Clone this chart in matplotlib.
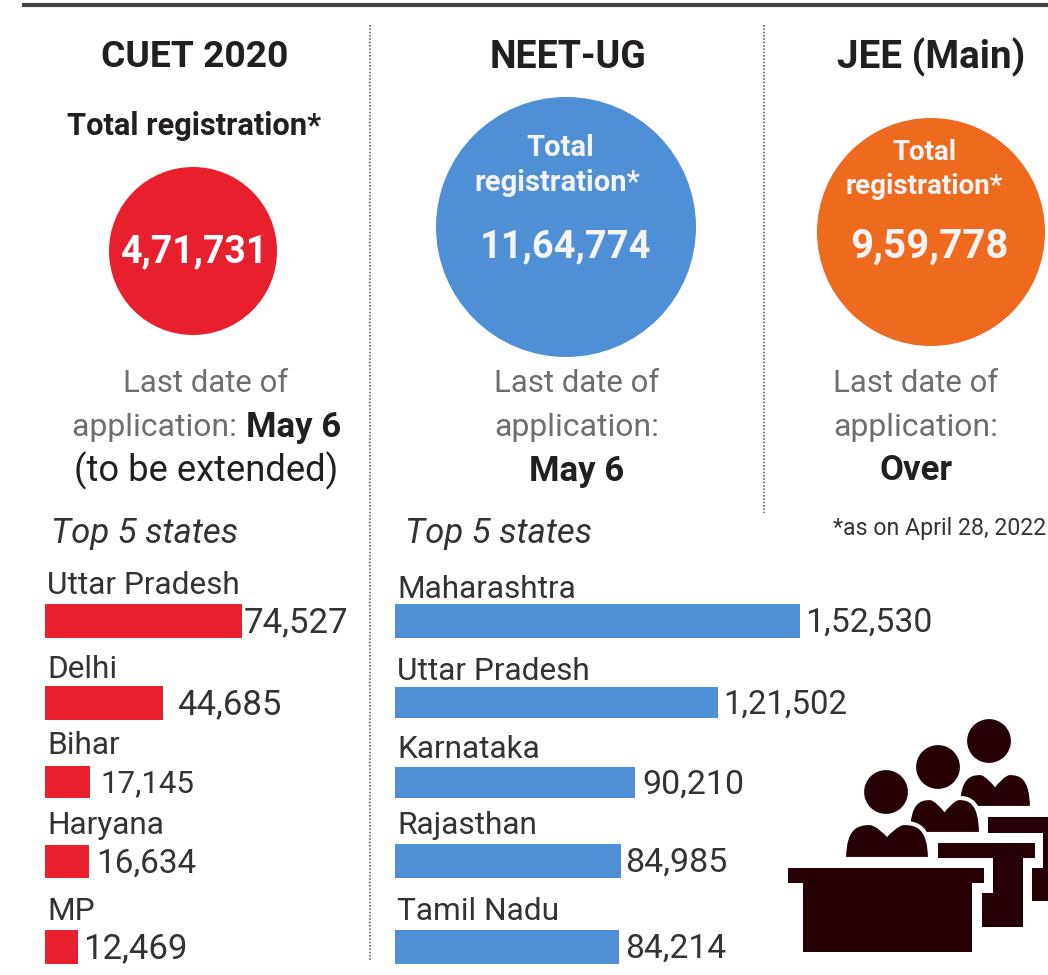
import matplotlib
matplotlib.use('Agg')
import matplotlib.pyplot as plt
from matplotlib.patches import Circle, Rectangle, PathPatch
from matplotlib.path import Path

# data
cuet_states = ['Uttar Pradesh', 'Delhi', 'Bihar', 'Haryana', 'MP']
cuet_values = [74527, 44685, 17145, 16634, 12469]
cuet_labels = ['74,527', '44,685', '17,145', '16,634', '12,469']

neet_states = ['Maharashtra', 'Uttar Pradesh', 'Karnataka', 'Rajasthan', 'Tamil Nadu']
neet_values = [152530, 121502, 90210, 84985, 84214]
neet_labels = ['1,52,530', '1,21,502', '90,210', '84,985', '84,214']

totals = ['4,71,731', '11,64,774', '9,59,778']
titles = ['CUET 2020', 'NEET-UG', 'JEE (Main)']

RED = '#e8202d'
BLUE = '#4f8fd6'
ORANGE = '#ee6a1f'
DARK = '#231f20'
GREY = '#6d6e70'
ICON = '#260004'
W, H = 1048, 975

plt.rcParams['font.family'] = ['Roboto', 'DejaVu Sans']

fig = plt.figure(figsize=(W / 100, H / 100), dpi=100, facecolor='white')

# whole figure overlay in pixel coordinates for the text and decoration
bg = fig.add_axes([0, 0, 1, 1])
bg.set_xlim(0, W)
bg.set_ylim(H, 0)
bg.axis('off')

bg.plot([24, 1048], [5, 5], color='#444444', lw=3)
bg.plot([370, 370], [25, 960], color='#666666', lw=1.2, ls=(0, (1, 1)))
bg.plot([764, 764], [25, 513], color='#666666', lw=1.2, ls=(0, (1, 1)))


def label(x, y, s, size, color=DARK, ha='center', **kw):
    # roboto sits a little high against the original, nudge it down
    return bg.text(x, y + 2, s, ha=ha, va='center', fontsize=size, color=color, **kw)


for t, x, size in zip(titles, [195, 568, 931], [26.8, 27, 27.8]):
    label(x, 55, t, size, fontweight='bold')

label(194, 124, 'Total registration*', 22.2, fontweight='bold')

# circles
bg.add_patch(Circle((193, 251), 84, color=RED, lw=0))
bg.add_patch(Circle((566, 227), 130, color=BLUE, lw=0))
bg.add_patch(Circle((931, 232), 114, color=ORANGE, lw=0))

label(195, 250, totals[0], 27, 'white', fontweight='bold')
label(560, 146, 'Total', 21, '#f4f4f4', fontweight='bold')
label(557, 181, 'registration*', 21, '#f4f4f4', fontweight='bold')
label(566, 245, totals[1], 27.4, '#f4f4f4', fontweight='bold')
label(925, 150, 'Total', 20, '#f4f4f4', fontweight='bold')
label(924, 184, 'registration*', 20, '#f4f4f4', fontweight='bold')
label(930, 245, totals[2], 29, '#f4f4f4', fontweight='bold')

# last date of application blocks
label(206, 381, 'Last date of', 22.4, GREY)
label(72, 425, 'application: ', 23, GREY, ha='left')
label(246, 425, 'May 6', 25, ha='left', fontweight='bold')
label(206, 469, '(to be extended)', 26.2)

label(577, 381, 'Last date of', 22.4, GREY)
label(577, 425, 'application:', 23, GREY)
label(577, 469, 'May 6', 25, fontweight='bold')

label(916, 381, 'Last date of', 22.4, GREY)
label(916, 425, 'application:', 23, GREY)
label(916, 469, 'Over', 25, fontweight='bold')
label(833, 527, '*as on April 28, 2022', 16.7, '#333333', ha='left')

label(51, 531, 'Top 5 states', 25, '#333333', ha='left', style='italic')
label(405, 531, 'Top 5 states', 25, '#333333', ha='left', style='italic')


# icon
def person(hx, hy, x0, x1, y0, y1):
    # grow the outline by the white edge so the dark part keeps its size
    x0, x1, y0 = x0 - 2, x1 + 2, y0 - 2
    xm = (x0 + x1) / 2
    w = x1 - x0
    verts = [(x0, y1), (x0, y0 + 4), (x0 + .15 * w, y0), (x0 + .3 * w, y0),
             (x0 + .38 * w, y0), (xm, y0 + 11), (xm, y0 + 11),
             (xm, y0 + 11), (x1 - .38 * w, y0), (x1 - .3 * w, y0),
             (x1 - .15 * w, y0), (x1, y0 + 4), (x1, y1), (x0, y1)]
    codes = [Path.MOVETO, Path.CURVE4, Path.CURVE4, Path.CURVE4,
             Path.CURVE4, Path.CURVE4, Path.CURVE4,
             Path.CURVE4, Path.CURVE4, Path.CURVE4,
             Path.CURVE4, Path.CURVE4, Path.CURVE4, Path.CLOSEPOLY]
    # white edge gives the gap where a person overlaps the one behind
    bg.add_patch(PathPatch(Path(verts, codes), fc=ICON, ec='white', lw=3))
    bg.add_patch(Circle((hx, hy), 24, fc=ICON, ec='white', lw=3))


person(989, 741, 960, 1030, 775, 808)
person(938, 767, 910, 979, 800, 834)
person(886, 792, 846, 928, 825, 859)

for x0, y0, x1, y1 in [(788, 868, 984, 883), (803, 883, 972, 952),
                       (938, 843, 1035, 858), (993, 858, 1023, 927), (982, 893, 993, 927),
                       (988, 817, 1048, 833), (1032, 868, 1048, 901), (1043, 833, 1048, 868)]:
    bg.add_patch(Rectangle((x0, y0), x1 - x0, y1 - y0, color=ICON, lw=0))


# bar panels, same value scale in both (about 0.002655 px per unit)
def bars(left, width, vmax, states, values, labels, color, tops, heights, name_y, pads, sizes):
    ax = fig.add_axes([left / W, 0, width / W, 1], facecolor='none')
    ax.set_xlim(0, vmax)
    ax.set_ylim(H, 0)
    ax.axis('off')
    ax.barh(tops, values, height=heights, align='edge', color=color, lw=0)
    for s, v, l, y, h, ny, p, fs in zip(states, values, labels, tops, heights, name_y, pads, sizes):
        label(left + 2, ny, s, 22.8, '#333333', ha='left')
        label(left + v * width / vmax + p, y + h / 2, l, fs, '#333333', ha='left')


bars(45, 265, 100000, cuet_states, cuet_values, cuet_labels, RED,
     [604, 686, 766, 845, 930], [34, 34, 32, 33, 34], [584, 668, 743, 823, 909],
     [1, 14, 10, 7, 5], [25, 25, 22.5, 24, 25])
bars(395, 531, 200000, neet_states, neet_values, neet_labels, BLUE,
     [604, 687, 767, 844, 930], [34, 31, 31, 34, 34], [587, 670, 747, 823, 910],
     [5, 6, 8, 4, 7], [24.3, 23.7, 24.5, 24.5, 24.2])

fig.savefig('out.png', dpi=100)
